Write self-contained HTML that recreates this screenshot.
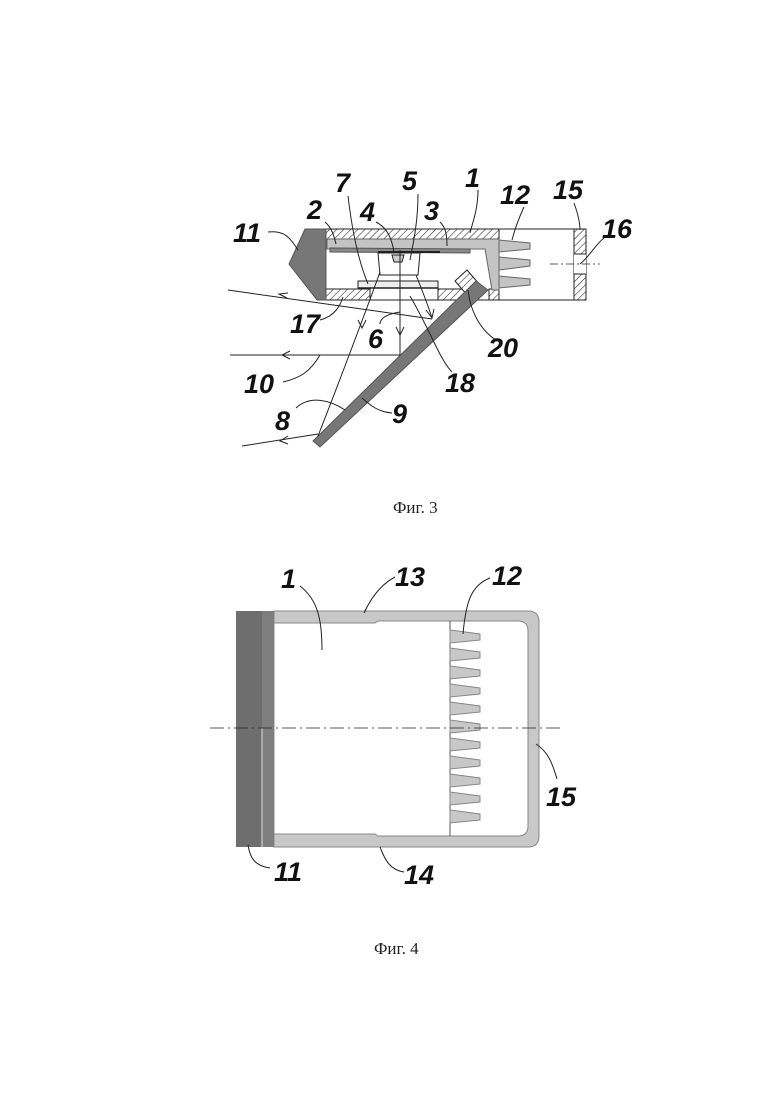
<!DOCTYPE html>
<html><head><meta charset="utf-8"><style>
html,body{margin:0;padding:0;background:#fff}
svg{display:block}
.l{font-family:"Liberation Sans",sans-serif;font-weight:bold;font-style:italic;font-size:27px;fill:#111}
.c{font-family:"Liberation Serif",serif;font-size:17px;fill:#222}
</style></head><body>
<svg width="780" height="1103" viewBox="0 0 780 1103" xmlns="http://www.w3.org/2000/svg">
<defs>
<pattern id="h" width="5" height="5" patternUnits="userSpaceOnUse" patternTransform="rotate(45)">
<rect width="5" height="5" fill="#fff"/><line x1="0" y1="0" x2="0" y2="5" stroke="#333" stroke-width="1.2"/></pattern>
<marker id="a" markerWidth="10" markerHeight="8" refX="5" refY="4" orient="auto" markerUnits="userSpaceOnUse">
<path d="M0,0 L7,4 L0,8" fill="none" stroke="#222" stroke-width="1"/></marker>
</defs>
<g stroke="#222" stroke-width="1" fill="none">
<!-- Fig 3 -->
<rect x="499" y="229" width="87" height="71"/>
<rect x="574" y="229" width="12" height="71" fill="url(#h)"/>
<rect x="574" y="254" width="12" height="20" fill="#fff" stroke="none"/>
<line x1="574" y1="254" x2="586" y2="254"/><line x1="574" y1="274" x2="586" y2="274"/>
<line x1="550" y1="264" x2="600" y2="264" stroke-dasharray="8,3,2,3" stroke-width="0.7"/>
<rect x="326" y="229" width="173" height="10" fill="url(#h)"/>
<rect x="326" y="289" width="44" height="11" fill="url(#h)"/>
<rect x="438" y="289" width="30" height="11" fill="url(#h)"/>
<rect x="489" y="289" width="10" height="11" fill="url(#h)"/>
<line x1="326" y1="300" x2="499" y2="300"/>
<line x1="499" y1="229" x2="499" y2="300"/>
<path d="M327,239 L499,239 L499,290 L492,290 L485,249 L327,249 Z" fill="#c4c4c4" stroke="#666"/>
<path d="M330,248 L470,249 L470,253 L330,252Z" fill="#8a8a8a" stroke="#555"/>
<line x1="378" y1="252" x2="440" y2="252" stroke-width="2"/>
<path d="M378,253 L420,253 L418,275 L380,275 Z" fill="#fff"/>
<path d="M392,255 L404,255 L402,262 L394,262Z" fill="#ccc"/>
<rect x="358" y="281" width="80" height="7" fill="#eee"/>
<line x1="358" y1="288" x2="438" y2="288" stroke-width="1.6"/>
<path d="M305,229 L326,229 L326,300 L317,300 L289,264 Z" fill="#777" stroke="#555"/>
<path d="M499,240 L530,243 L530,249 L499,252Z M499,257 L530,260 L530,266 L499,270Z M499,276 L530,279 L530,285 L499,288Z" fill="#c4c4c4" stroke="#666"/>
<path d="M455,281 L467,270 L480,285 L468,296Z" fill="url(#h)"/>
<path d="M476,281 L488,290 L320,447 L313,441 Z" fill="#777" stroke="#555"/>
<!-- rays -->
<line x1="228" y1="290" x2="432" y2="319"/>
<line x1="330" y1="296" x2="280" y2="297" stroke="none"/>
<path d="M288,293 L279,294 L287,298" />
<line x1="230" y1="355" x2="400" y2="355"/>
<path d="M290,351 L282,355 L290,359"/>
<line x1="400" y1="250" x2="400" y2="355"/>
<path d="M396,327 L400,335 L404,327"/>
<path d="M380,272 C370,300 340,380 318,436"/>
<path d="M358,320 L362,328 L366,320"/>
<path d="M416,275 C422,290 428,305 432,318"/>
<path d="M426,310 L432,318 L434,309"/>
<line x1="242" y1="446" x2="318" y2="434"/>
<path d="M288,436 L280,441 L288,444"/>
<!-- leaders fig3 -->
<path d="M268,232 C285,230 290,238 298,250"/>
<path d="M325,222 C332,228 334,236 336,244"/>
<path d="M348,196 C352,230 358,260 368,284"/>
<path d="M376,222 C388,228 392,240 394,252"/>
<path d="M418,194 C418,220 414,240 410,260"/>
<path d="M440,222 C446,228 447,235 447,246"/>
<path d="M478,190 C478,210 472,224 470,233"/>
<path d="M524,207 C518,220 514,232 512,240"/>
<path d="M574,203 C578,214 580,222 580,230"/>
<path d="M604,238 C595,245 590,256 580,264"/>
<path d="M320,320 C335,316 340,306 343,297"/>
<path d="M380,324 C380,318 388,314 400,312"/>
<path d="M496,340 C480,330 470,310 468,290"/>
<path d="M452,372 C440,360 430,330 410,296"/>
<path d="M283,382 C300,378 310,372 320,355"/>
<path d="M296,408 C310,395 330,400 345,410"/>
<path d="M392,413 C378,412 370,405 362,398"/>
<!-- Fig 4 -->
<path d="M274,611 L528,611 Q539,611 539,622 L539,836 Q539,847 528,847 L274,847 Z" fill="#c8c8c8" stroke="#888"/>
<path d="M274,623 L375,623 L378,621 L518,621 Q528,621 528,631 L528,826 Q528,836 518,836 L378,836 L375,834 L274,834 Z" fill="#fff" stroke="#888"/>
<rect x="236" y="611" width="38" height="236" fill="#6e6e6e" stroke="none"/>
<rect x="262" y="611" width="12" height="236" fill="#7e7e7e" stroke="none"/>
<line x1="262" y1="728" x2="262" y2="847" stroke="#ddd"/>
<line x1="450" y1="621" x2="450" y2="836" stroke="#555"/>
<path d="M450,630 L480,634 L480,640 L450,643Z M450,648 L480,652 L480,658 L450,661Z M450,666 L480,670 L480,676 L450,679Z M450,684 L480,688 L480,694 L450,697Z M450,702 L480,706 L480,712 L450,715Z M450,720 L480,724 L480,730 L450,733Z M450,738 L480,742 L480,748 L450,751Z M450,756 L480,760 L480,766 L450,769Z M450,774 L480,778 L480,784 L450,787Z M450,792 L480,796 L480,802 L450,805Z M450,810 L480,814 L480,820 L450,823Z" fill="#c8c8c8" stroke="#888"/>
<line x1="210" y1="728" x2="563" y2="728" stroke-dasharray="14,4,2,4" stroke-width="0.8"/>
<path d="M300,586 C318,600 322,620 322,650"/>
<path d="M395,577 C380,585 370,600 364,613"/>
<path d="M490,578 C472,585 466,600 463,634"/>
<path d="M557,779 C552,762 548,752 536,744"/>
<path d="M270,868 C255,866 250,858 248,845"/>
<path d="M404,872 C390,870 385,860 380,847"/>
</g>
<g class="l">
<text x="233" y="242">11</text><text x="307" y="219">2</text><text x="335" y="192">7</text>
<text x="360" y="221">4</text><text x="402" y="190">5</text><text x="424" y="220">3</text>
<text x="465" y="187">1</text><text x="500" y="204">12</text><text x="553" y="199">15</text>
<text x="602" y="238">16</text><text x="290" y="333">17</text><text x="368" y="348">6</text>
<text x="488" y="357">20</text><text x="445" y="392">18</text><text x="244" y="393">10</text>
<text x="275" y="430">8</text><text x="392" y="423">9</text>
<text x="281" y="588">1</text><text x="395" y="586">13</text><text x="492" y="585">12</text>
<text x="546" y="806">15</text><text x="274" y="881">11</text><text x="404" y="884">14</text>
</g>
<text class="c" x="393" y="513">Фиг. 3</text>
<text class="c" x="374" y="954">Фиг. 4</text>
</svg>
</body></html>
